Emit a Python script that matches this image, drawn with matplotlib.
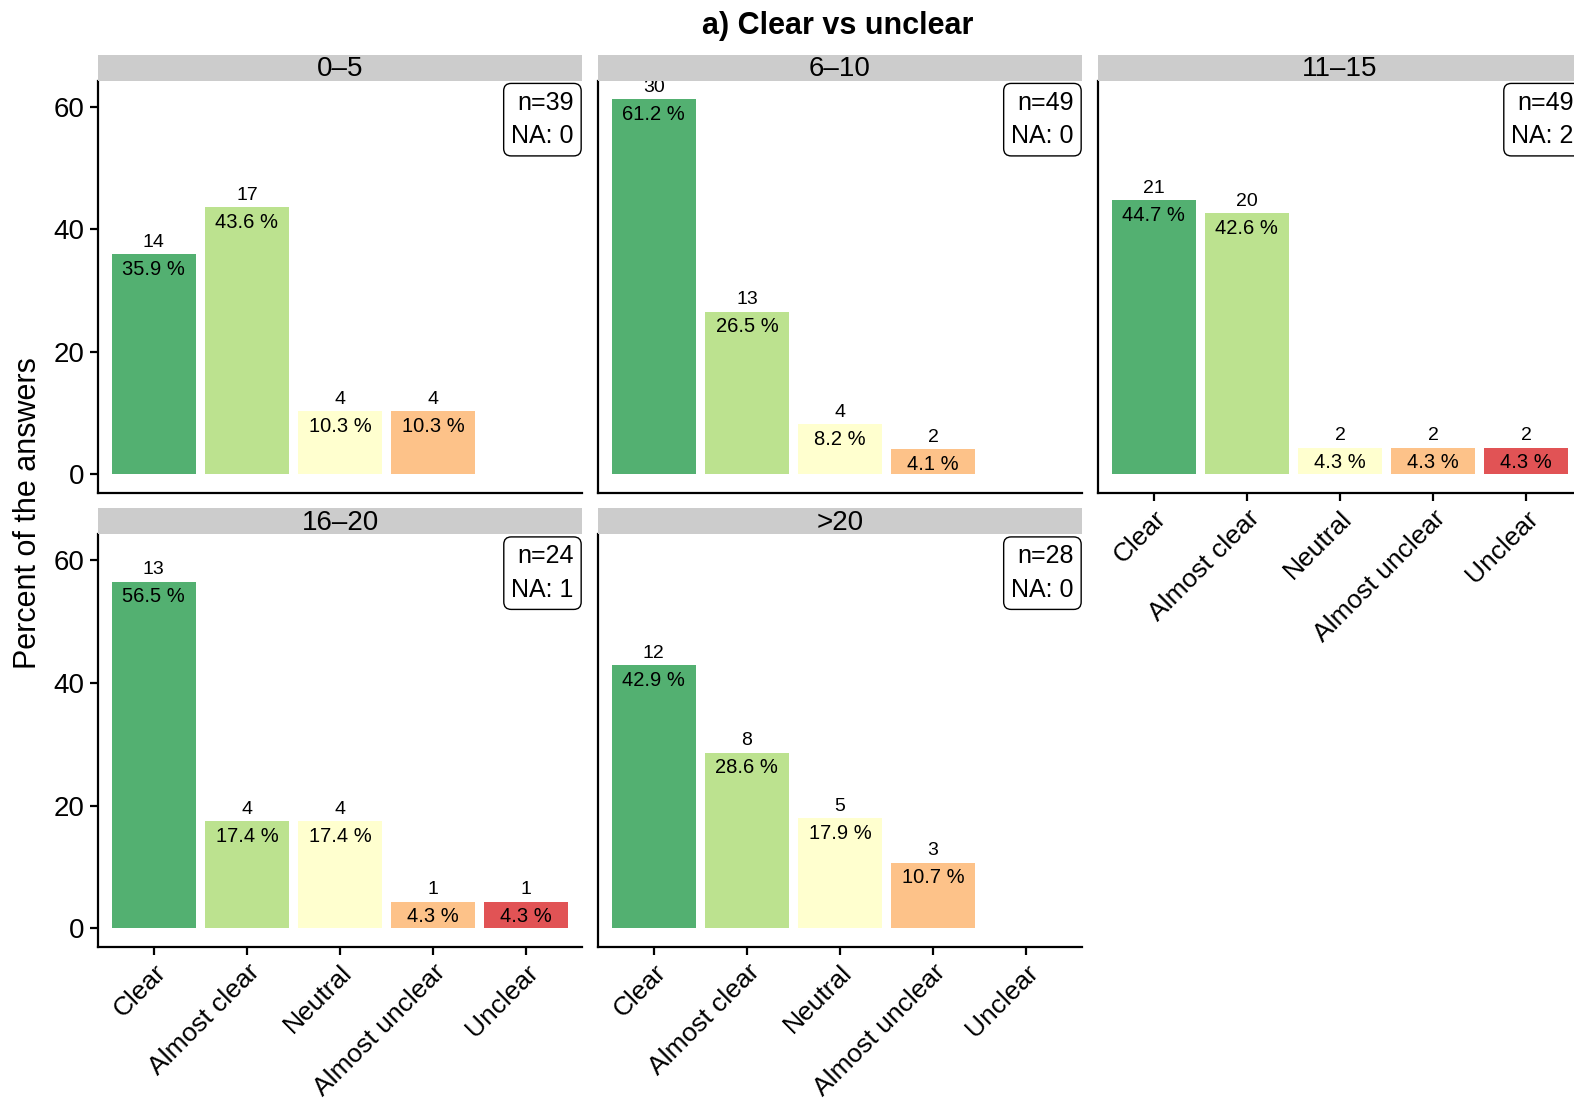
import matplotlib
matplotlib.use("Agg")
import matplotlib.pyplot as plt

plt.rcParams['font.family'] = ['Liberation Sans', 'DejaVu Sans']

categories = ["Clear", "Almost clear", "Neutral", "Almost unclear", "Unclear"]
colors = ["#1a9641", "#a6d96a", "#ffffbf", "#fdae61", "#d7191c"]

facets = ["0\u20135", "6\u201310", "11\u201315", "16\u201320", ">20"]
counts_0_5 = [14, 17, 4, 4, None]
pct_0_5 = [35.9, 43.6, 10.3, 10.3, None]
counts_6_10 = [30, 13, 4, 2, None]
pct_6_10 = [61.2, 26.5, 8.2, 4.1, None]
counts_11_15 = [21, 20, 2, 2, 2]
pct_11_15 = [44.7, 42.6, 4.3, 4.3, 4.3]
counts_16_20 = [13, 4, 4, 1, 1]
pct_16_20 = [56.5, 17.4, 17.4, 4.3, 4.3]
counts_gt20 = [12, 8, 5, 3, None]
pct_gt20 = [42.9, 28.6, 17.9, 10.7, None]
n_total = [39, 49, 49, 24, 28]
n_na = [0, 0, 2, 1, 0]

all_counts = [counts_0_5, counts_6_10, counts_11_15, counts_16_20, counts_gt20]
all_pct = [pct_0_5, pct_6_10, pct_11_15, pct_16_20, pct_gt20]

W, H = 1574, 1102
fig = plt.figure(figsize=(W / 100, H / 100), dpi=100)

col_x = [(98, 582), (598, 1082), (1098, 1582)]
row_y = [(80.5, 493), (534, 947)]
positions = [(0, 0), (0, 1), (0, 2), (1, 0), (1, 1)]
strip_h = 25.5

ymax_data = max(v for p in all_pct for v in p if v is not None)
ylo, yhi = -0.05 * ymax_data, ymax_data * 1.05

for i, (r, c) in enumerate(positions):
    x0, x1 = col_x[c]
    y0, y1 = row_y[r]
    ax = fig.add_axes([x0 / W, 1 - y1 / H, (x1 - x0) / W, (y1 - y0) / H])
    xs = [j + 1 for j, v in enumerate(all_pct[i]) if v is not None]
    vals = [v for v in all_pct[i] if v is not None]
    cnts = [v for v in all_counts[i] if v is not None]
    cols = [colors[j] for j, v in enumerate(all_pct[i]) if v is not None]
    ax.bar(xs, vals, width=0.9, color=cols, alpha=0.75, linewidth=0)
    for x, v, n in zip(xs, vals, cnts):
        ax.annotate(str(n), (x, v), xytext=(0, 2.5), textcoords="offset points",
                    ha="center", va="bottom", fontsize=14, clip_on=True)
        ax.annotate(f"{v:.1f} %", (x, v), xytext=(0, -4), textcoords="offset points",
                    ha="center", va="top", fontsize=14.5)
    ax.set_xlim(0.4, 5.6)
    ax.set_ylim(ylo, yhi)
    ax.set_yticks([0, 20, 40, 60])
    ax.set_xticks(range(1, 6))
    for s in ["top", "right"]:
        ax.spines[s].set_visible(False)
    for s in ["left", "bottom"]:
        ax.spines[s].set_linewidth(1.6)
    ax.tick_params(axis="both", width=1.6, length=6, labelsize=20, colors="black")
    if c == 0:
        ax.set_yticklabels(["0", "20", "40", "60"])
    else:
        ax.tick_params(axis="y", left=False, labelleft=False)
    if (r == 1) or (c == 2):
        ax.set_xticklabels(categories, rotation=45, ha="right",
                           rotation_mode="anchor", fontsize=19)
    else:
        ax.tick_params(axis="x", bottom=False, labelbottom=False)
    ax.annotate(f"n={n_total[i]}\nNA: {n_na[i]}", (1, 1), xycoords="axes fraction",
                xytext=(-6.0, -7.5), textcoords="offset points",
                ha="right", va="top", fontsize=18, linespacing=1.5,
                bbox=dict(boxstyle="round,pad=0.3,rounding_size=0.3", fc="white",
                          ec="black", lw=1.0))
    sax = fig.add_axes([x0 / W, 1 - y0 / H, (x1 - x0) / W, strip_h / H])
    sax.set_facecolor("#CCCCCC")
    for s in sax.spines.values():
        s.set_visible(False)
    sax.set_xticks([])
    sax.set_yticks([])
    sax.text(0.5, 0.45, facets[i], ha="center", va="center", fontsize=20,
             transform=sax.transAxes)

fig.text(838 / W, 1 - 26 / H, "a) Clear vs unclear", ha="center", va="center",
         fontsize=22, fontweight="bold")
fig.text(28 / W, 1 - 513 / H, "Percent of the answers", ha="center", va="center",
         rotation=90, fontsize=22)

fig.savefig("out.png", dpi=100)
